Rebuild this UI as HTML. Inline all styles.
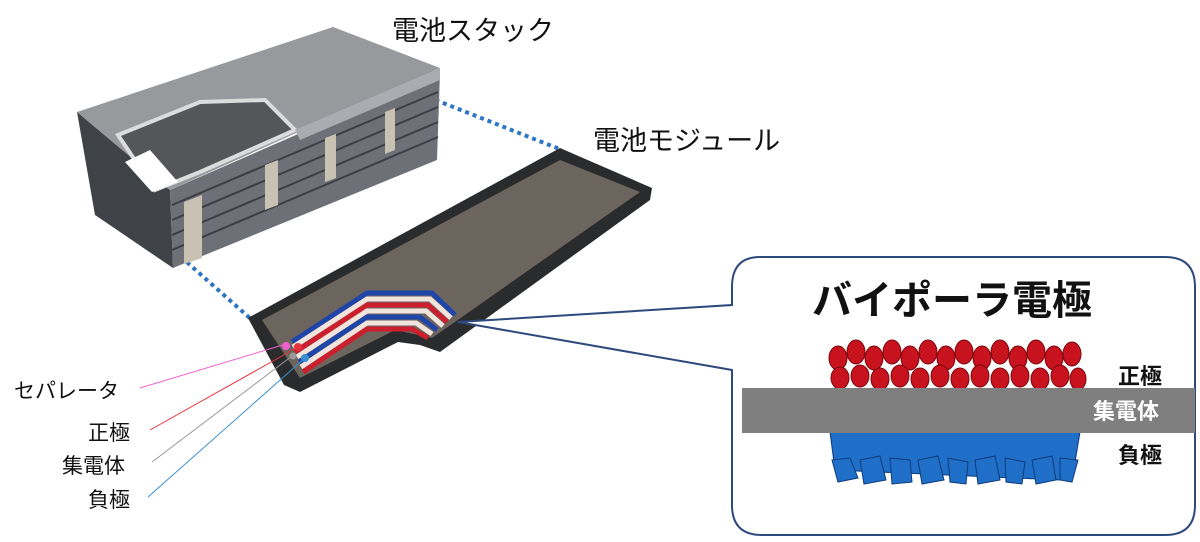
<!DOCTYPE html>
<html><head><meta charset="utf-8"><style>
body{margin:0;background:#fff;width:1200px;height:537px;overflow:hidden}
text{font-family:"Liberation Sans","Noto Sans CJK JP",sans-serif}
</style></head><body>
<svg width="1200" height="537" viewBox="0 0 1200 537" xmlns="http://www.w3.org/2000/svg">
<line x1="428" y1="97" x2="562" y2="150" stroke="#2e75c4" stroke-width="4" stroke-dasharray="4,4"/>
<line x1="145" y1="225" x2="252" y2="320" stroke="#2e75c4" stroke-width="4" stroke-dasharray="4,4"/>
<!-- stack -->
<polygon points="77,112 170,190 173,268 95,215" fill="#3f4246"/>
<polygon points="170,190 440,72 437,160 173,268" fill="#6d7177"/>
<g stroke="#3b3e43" stroke-width="2">
<line x1="172" y1="205" x2="438" y2="92"/><line x1="172" y1="220" x2="438" y2="107"/>
<line x1="172" y1="235" x2="438" y2="122"/><line x1="172" y1="250" x2="438" y2="137"/></g>
<polygon points="184,202 202,195 202,258 184,264" fill="#c9c1b2"/>
<polygon points="265,165 278,160 278,205 265,210" fill="#c9c1b2"/>
<polygon points="325,138 336,134 336,178 325,182" fill="#c9c1b2"/>
<polygon points="385,112 395,108 395,150 385,154" fill="#c9c1b2"/>
<polygon points="77,112 333,27 440,68 170,190" fill="#97999d"/>
<polygon points="118,135 200,102 265,100 295,130 200,172 155,190" fill="#55565a" stroke="#dcdcdc" stroke-width="4"/>
<polygon points="125,162 152,192 178,182 150,150" fill="#fff"/>
<polygon points="295,130 440,68 440,80 300,140" fill="#a9acb0"/>
<!-- module -->
<polygon points="248,318 560,148 652,188 650,200 440,352 420,345 398,342 300,392 284,385" fill="#2a2b2d"/>
<polygon points="262,320 560,160 640,192 432,338 395,330 300,378" fill="#6b655e"/>
<g fill="none" stroke-linejoin="miter" stroke-width="5">
<polyline points="292,342 367,293 432,293 455,315" stroke="#1f45a8"/>
<polyline points="293,347 367,299 430,299 451,318" stroke="#f1e4dc"/>
<polyline points="295,352 367,305 428,305 447,322" stroke="#cc1f2e"/>
<polyline points="297,357 367,311 426,311 443,326" stroke="#f1e4dc"/>
<polyline points="299,362 367,317 420,317 437,330" stroke="#1f45a8"/>
<polyline points="301,367 367,323 416,323 432,334" stroke="#f1e4dc"/>
<polyline points="303,372 367,329 412,329 428,338" stroke="#cc1f2e"/>
</g>
<line x1="140" y1="388" x2="286" y2="344" stroke="#f060d0" stroke-width="1"/>
<line x1="150" y1="430" x2="298" y2="347" stroke="#e8323c" stroke-width="1"/>
<line x1="152" y1="462" x2="292" y2="356" stroke="#999" stroke-width="1"/>
<line x1="148" y1="497" x2="305" y2="358" stroke="#3a8fd0" stroke-width="1"/>
<circle cx="286" cy="346" r="4" fill="#f060d0"/><circle cx="298" cy="347" r="4" fill="#e8323c"/>
<circle cx="293" cy="356" r="3.5" fill="#999"/><circle cx="305" cy="358" r="4" fill="#3a8fd0"/>
<path d="M760,257 H1165 Q1195,257 1195,287 V505 Q1195,535 1165,535 H762 Q732,535 732,505 V370 L458,322 L732,305 V287 Q732,257 760,257 Z" fill="#fff" stroke="#2e4a7d" stroke-width="2"/>
<text x="952" y="314" font-size="40" font-weight="bold" text-anchor="middle" fill="#111">バイポーラ電極</text>
<g fill="#c8121e" stroke="#7a0a10" stroke-width="1">
<ellipse cx="838" cy="358" rx="9" ry="12"/><ellipse cx="856" cy="352" rx="9" ry="12"/><ellipse cx="874" cy="358" rx="9" ry="12"/><ellipse cx="892" cy="352" rx="9" ry="12"/><ellipse cx="910" cy="358" rx="9" ry="12"/><ellipse cx="928" cy="352" rx="9" ry="12"/><ellipse cx="946" cy="358" rx="9" ry="12"/><ellipse cx="964" cy="352" rx="9" ry="12"/><ellipse cx="982" cy="358" rx="9" ry="12"/><ellipse cx="1000" cy="352" rx="9" ry="12"/><ellipse cx="1018" cy="358" rx="9" ry="12"/><ellipse cx="1036" cy="352" rx="9" ry="12"/><ellipse cx="1054" cy="358" rx="9" ry="12"/><ellipse cx="1072" cy="354" rx="9" ry="12"/>
<ellipse cx="840" cy="378" rx="9" ry="11"/><ellipse cx="860" cy="376" rx="9" ry="11"/><ellipse cx="880" cy="379" rx="9" ry="11"/><ellipse cx="900" cy="376" rx="9" ry="11"/><ellipse cx="920" cy="379" rx="9" ry="11"/><ellipse cx="940" cy="376" rx="9" ry="11"/><ellipse cx="960" cy="379" rx="9" ry="11"/><ellipse cx="980" cy="376" rx="9" ry="11"/><ellipse cx="1000" cy="379" rx="9" ry="11"/><ellipse cx="1020" cy="376" rx="9" ry="11"/><ellipse cx="1040" cy="379" rx="9" ry="11"/><ellipse cx="1060" cy="376" rx="9" ry="11"/><ellipse cx="1078" cy="379" rx="8" ry="11"/>
</g>
<g fill="#1f6fc9" stroke="#0d3b7a" stroke-width="1">
<polygon points="830,432 1080,432 1075,462 1060,480 835,470"/>
<polygon points="832,460 850,458 858,478 838,482"/><polygon points="860,460 880,456 886,480 864,484"/><polygon points="890,458 910,460 912,482 892,484"/><polygon points="918,460 938,456 944,480 922,484"/><polygon points="948,458 968,462 966,484 950,482"/><polygon points="975,460 995,456 1000,480 978,484"/><polygon points="1005,458 1025,462 1022,484 1006,482"/><polygon points="1032,460 1052,456 1056,480 1036,484"/><polygon points="1060,458 1078,460 1072,482 1060,480"/>
</g>
<rect x="742" y="388" width="453" height="45" fill="#7f7f7f"/>
<text x="1140" y="384" font-size="22" font-weight="bold" text-anchor="middle" fill="#111">正極</text>
<text x="1126" y="419" font-size="22" font-weight="bold" text-anchor="middle" fill="#fff">集電体</text>
<text x="1140" y="463" font-size="22" font-weight="bold" text-anchor="middle" fill="#111">負極</text>
<text x="392" y="40" font-size="27" fill="#111">電池スタック</text>
<text x="593" y="150" font-size="27" fill="#111">電池モジュール</text>
<text x="14" y="398" font-size="21" fill="#111">セパレータ</text>
<text x="88" y="440" font-size="21" fill="#111">正極</text>
<text x="62" y="473" font-size="21" fill="#111">集電体</text>
<text x="88" y="507" font-size="21" fill="#111">負極</text>
</svg>
</body></html>
